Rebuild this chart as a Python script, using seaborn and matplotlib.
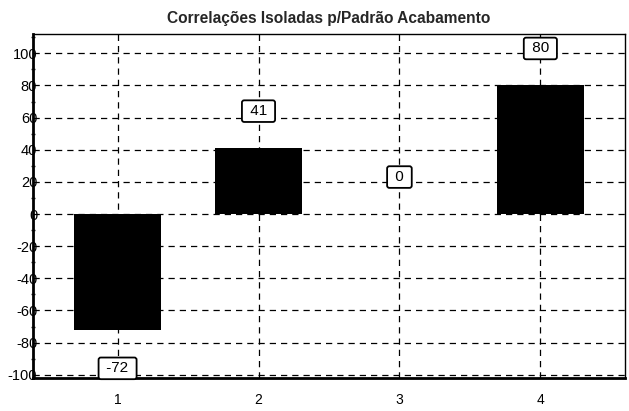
import matplotlib
matplotlib.use("Agg")
import matplotlib.pyplot as plt
import seaborn as sns
import pandas as pd
from matplotlib.ticker import MultipleLocator

categories = [1, 2, 3, 4]
values = [-72, 41, 0, 80]
labels = ["-72", "41", "0", "80"]
yticks = [-100, -80, -60, -40, -20, 0, 20, 40, 60, 80, 100]

sns.set_style("white")
plt.rcParams['font.family'] = ['Liberation Sans', 'DejaVu Sans']
plt.rcParams['axes.unicode_minus'] = False

df = pd.DataFrame({"cat": categories, "val": values})

fig = plt.figure(figsize=(6.29, 4.11), dpi=100)
ax = fig.add_axes([0.0525, 0.0803, 0.941, 0.837])
sns.barplot(data=df, x="cat", y="val", native_scale=True, width=0.62,
            color="black", saturation=1, ax=ax, zorder=3, linewidth=0, edgecolor="black")
ax.set_xlim(0.4, 4.6)
ax.set_ylim(-102, 112)
ax.set_xticks(categories)
ax.set_yticks(yticks)
ax.yaxis.set_minor_locator(MultipleLocator(10))
ax.grid(True, which="major", color="black", linestyle=(0, (5, 4)), linewidth=0.9, zorder=1)
ax.set_axisbelow(True)
ax.set_xlabel("")
ax.set_ylabel("")
ax.set_title("Correlações Isoladas p/Padrão Acabamento", fontsize=11.2, fontweight="bold", pad=8)

for s in ["left", "bottom"]:
    ax.spines[s].set_linewidth(2.0)
for s in ["top", "right"]:
    ax.spines[s].set_linewidth(1.0)
for s in ax.spines.values():
    s.set_color("black")
    s.set_zorder(5)

ax.tick_params(axis="y", which="major", direction="inout", length=6, width=1.2, pad=-6, labelsize=10.5, colors="black")
ax.tick_params(axis="y", which="minor", direction="inout", length=3, width=1, left=True)
ax.tick_params(axis="x", which="major", direction="inout", length=5, width=1, pad=8, labelsize=10, colors="black")
for lab in ax.get_yticklabels():
    lab.set_zorder(6)

for c, v, t in zip(categories, values, labels):
    off = 23 if v >= 0 else -24
    ax.text(c, v + off, " " + t + " ", ha="center", va="center", fontsize=11, color="black", zorder=7,
            bbox=dict(boxstyle="round,pad=0.25,rounding_size=0.15", fc="white", ec="black", lw=1.3))

fig.savefig("out.png", dpi=100)
